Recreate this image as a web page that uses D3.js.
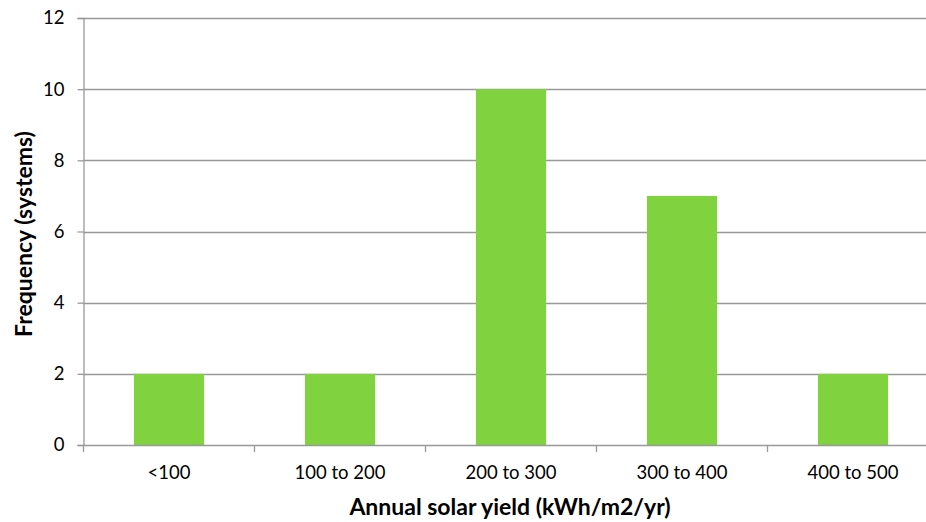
<!DOCTYPE html>
<html>
<head>
<meta charset="utf-8">
<script src="https://cdn.jsdelivr.net/npm/d3@7/dist/d3.min.js"></script>
<style>
  html, body { margin: 0; padding: 0; background: #fff; }
  svg { display: block; }
  text { font-family: Lato, "Open Sans", "Liberation Sans", sans-serif; fill: #000; }
</style>
</head>
<body>
<svg id="chart" width="926" height="522"></svg>
<script>
// Annual solar yield histogram
const categories = ["<100", "100 to 200", "200 to 300", "300 to 400", "400 to 500"];
const frequencies = [2, 2, 10, 7, 2];
const yTicks = [0, 2, 4, 6, 8, 10, 12];

const svg = d3.select("#chart");
const margin = { left: 83.5, top: 18, bottom: 445 };
const plotRight = 83.5 + 5 * 171;

const x = d3.scaleBand()
  .domain(categories)
  .range([margin.left, plotRight])
  .paddingInner(0.59)
  .paddingOuter(0.295);

const y = d3.scaleLinear()
  .domain([0, 12])
  .range([margin.bottom, margin.top]);

// Horizontal gridlines
svg.append("g")
  .selectAll("line")
  .data(yTicks.filter(d => d > 0))
  .join("line")
  .attr("x1", margin.left)
  .attr("x2", plotRight)
  .attr("y1", d => Math.round(y(d)) + 0.5)
  .attr("y2", d => Math.round(y(d)) + 0.5)
  .attr("stroke", "#999")
  .attr("stroke-width", 1.3);

// Bars
svg.append("g")
  .selectAll("rect")
  .data(categories.map((c, i) => ({ c, v: frequencies[i] })))
  .join("rect")
  .attr("x", d => x(d.c))
  .attr("width", x.bandwidth())
  .attr("y", d => y(d.v))
  .attr("height", d => y(0) - y(d.v))
  .attr("fill", "#80d23f");

// Y axis
const yAxis = d3.axisLeft(y).tickValues(yTicks).tickSize(6).tickPadding(13);
const gy = svg.append("g")
  .attr("transform", `translate(${margin.left},0)`)
  .call(yAxis);
gy.select(".domain").attr("stroke", "#999").attr("stroke-width", 1.3);
gy.selectAll(".tick line").attr("stroke", "#999").attr("stroke-width", 1.3);
gy.selectAll(".tick text").attr("font-size", 18.5).style("font-family", "Lato, 'Open Sans', sans-serif");

// X axis with boundary ticks between categories
const gx = svg.append("g").attr("transform", `translate(0,${margin.bottom})`);
gx.append("line")
  .attr("x1", margin.left).attr("x2", plotRight)
  .attr("y1", 0.5).attr("y2", 0.5)
  .attr("stroke", "#999").attr("stroke-width", 1.3);
const boundaries = d3.range(categories.length + 1).map(i => margin.left + i * (plotRight - margin.left) / categories.length);
gx.selectAll("line.tk")
  .data(boundaries)
  .join("line")
  .attr("class", "tk")
  .attr("x1", d => d).attr("x2", d => d)
  .attr("y1", 0).attr("y2", 7)
  .attr("stroke", "#999").attr("stroke-width", 1.3);
gx.selectAll("text")
  .data(categories)
  .join("text")
  .attr("x", d => x(d) + x.bandwidth() / 2)
  .attr("y", 34)
  .attr("text-anchor", "middle")
  .attr("font-size", 18.5)
  .text(d => d);

// Axis titles
svg.append("text")
  .attr("x", 510)
  .attr("y", 515)
  .attr("text-anchor", "middle")
  .attr("font-size", 23)
  .attr("font-weight", "bold")
  .text("Annual solar yield (kWh/m2/yr)");

svg.append("text")
  .attr("transform", "translate(32,234) rotate(-90)")
  .attr("text-anchor", "middle")
  .attr("font-size", 23)
  .attr("font-weight", "bold")
  .text("Frequency (systems)");
</script>
</body>
</html>
